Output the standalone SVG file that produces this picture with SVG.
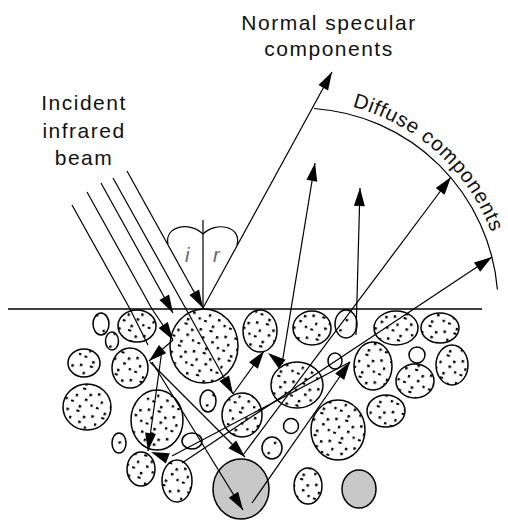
<svg xmlns="http://www.w3.org/2000/svg" xmlns:xlink="http://www.w3.org/1999/xlink" width="508" height="520" viewBox="0 0 508 520">
  <style>
    .lbl { font-family: "Liberation Sans", Arial, sans-serif; font-size: 21px; letter-spacing: 1.5px; fill: #111; }
    .arc { font-family: "Liberation Sans", Arial, sans-serif; font-size: 20.5px; letter-spacing: 0.8px; fill: #111; }
    .ang { font-family: "Liberation Sans", Arial, sans-serif; font-size: 20px; font-style: italic; fill: #666; }
    .ray { fill: none; stroke: #000; stroke-width: 1.2; }
    .grain { fill: url(#dense); stroke: #000; stroke-width: 1.5; }
    .few { fill: url(#sparse); stroke: #000; stroke-width: 1.5; }
    .plain { fill: #fff; stroke: #000; stroke-width: 1.5; }
    .grey { fill: #c8c8c8; stroke: #000; stroke-width: 1.5; }
    .ah { fill: #000; }
  </style>
  <defs>
    <!-- speckled interior of the powder grains -->
    <pattern id="dense" width="26" height="23" patternUnits="userSpaceOnUse" patternTransform="rotate(17)">
      <rect width="26" height="23" fill="#fff"/>
      <rect x="1" y="2" width="2.5" height="2.5" fill="#000"/>
      <rect x="11" y="1" width="3.2" height="2" fill="#000"/>
      <rect x="19" y="5" width="2.5" height="2.5" fill="#000"/>
      <rect x="6" y="9" width="2.2" height="2.6" fill="#000"/>
      <rect x="16" y="11" width="2.6" height="2.4" fill="#000"/>
      <rect x="23" y="15" width="2.3" height="2.3" fill="#000"/>
      <rect x="3" y="16" width="2.8" height="2" fill="#000"/>
      <rect x="12" y="19" width="2.5" height="2.5" fill="#000"/>
    </pattern>
    <pattern id="sparse" width="19" height="17" patternUnits="userSpaceOnUse" patternTransform="rotate(-23)">
      <rect width="19" height="17" fill="#fff"/>
      <rect x="3" y="4" width="2.4" height="2.4" fill="#000"/>
      <rect x="12" y="11" width="2.6" height="2.2" fill="#000"/>
    </pattern>
    <!-- arrowhead pointing along +x, tip at the origin -->
    <path id="ah" d="M0,0 L-18,-5.5 L-18,5.5 Z"/>
    <!-- baseline for the curved caption, r = 205 about (300,305) -->
    <path id="arcText" d="M352.2,106.6 A205,205 0 0 1 504.2,294.3"/>
  </defs>

  <!-- labels -->
  <g id="label-incident">
    <text class="lbl" x="84" y="110" text-anchor="middle">Incident</text>
    <text class="lbl" x="84" y="138" text-anchor="middle">infrared</text>
    <text class="lbl" x="84" y="165" text-anchor="middle">beam</text>
  </g>
  <g id="label-specular">
    <text class="lbl" x="329" y="30" text-anchor="middle">Normal specular</text>
    <text class="lbl" x="329" y="56" text-anchor="middle">components</text>
  </g>
  <g id="label-diffuse">
    <path class="ray" d="M314,108.5 A198,198 0 0 1 497.4,289.5"/>
    <text class="arc"><textPath xlink:href="#arcText" href="#arcText">Diffuse components</textPath></text>
  </g>

  <!-- powder grains below the sample surface -->
  <g id="grains">
    <ellipse id="g1" class="few" cx="101" cy="324" rx="8" ry="11"/>
    <ellipse id="g2" class="few" cx="112" cy="341" rx="6.5" ry="9"/>
    <ellipse id="g3" class="grain" cx="137" cy="326" rx="19" ry="16"/>
    <ellipse id="g4" class="grain" cx="84" cy="363" rx="16" ry="14"/>
    <ellipse id="g5" class="grain" cx="130" cy="368" rx="18" ry="20"/>
    <ellipse id="g6" class="grain" cx="204" cy="346" rx="34" ry="37"/>
    <ellipse id="g7" class="grain" cx="87" cy="407" rx="24" ry="23"/>
    <ellipse id="g8" class="few" cx="208" cy="401" rx="8" ry="11"/>
    <ellipse id="g9" class="grain" cx="157" cy="420" rx="26" ry="30"/>
    <ellipse id="g10" class="grain" cx="242" cy="415" rx="20" ry="22"/>
    <ellipse id="g11" class="few" cx="119" cy="443" rx="7" ry="10"/>
    <ellipse id="g12" class="plain" cx="192" cy="441" rx="10" ry="8"/>
    <ellipse id="g13" class="grain" cx="141" cy="469" rx="14" ry="17"/>
    <ellipse id="g14" class="grain" cx="177" cy="481" rx="15" ry="21"/>
    <ellipse id="g15" class="grey" cx="241" cy="489" rx="28" ry="30"/>
    <ellipse id="g16" class="grain" cx="260" cy="331" rx="17" ry="21"/>
    <ellipse id="g17" class="grain" cx="312" cy="328" rx="19" ry="17"/>
    <ellipse id="g18" class="grain" cx="297" cy="385" rx="26" ry="23"/>
    <ellipse id="g19" class="plain" cx="291" cy="426" rx="7.5" ry="7.5"/>
    <ellipse id="g20" class="few" cx="272" cy="448" rx="10" ry="11"/>
    <ellipse id="g21" class="grain" cx="308" cy="486" rx="14" ry="18"/>
    <ellipse id="g22" class="grain" cx="338" cy="430" rx="27" ry="30"/>
    <ellipse id="g23" class="grey" cx="359" cy="489" rx="17" ry="19"/>
    <ellipse id="g24" class="few" cx="346" cy="324" rx="11" ry="14"/>
    <ellipse id="g25" class="grain" cx="396" cy="328" rx="22" ry="17"/>
    <ellipse id="g26" class="grain" cx="440" cy="328" rx="19" ry="15"/>
    <ellipse id="g27" class="plain" cx="335" cy="361" rx="7" ry="8"/>
    <ellipse id="g28" class="grain" cx="373" cy="366" rx="19" ry="24"/>
    <ellipse id="g29" class="plain" cx="417" cy="355" rx="8" ry="8"/>
    <ellipse id="g30" class="grain" cx="415" cy="381" rx="19" ry="17"/>
    <ellipse id="g31" class="grain" cx="452" cy="365" rx="16" ry="20"/>
    <ellipse id="g32" class="grain" cx="386" cy="411" rx="19" ry="16"/>
  </g>

  <!-- sample surface, normal and angle marks -->
  <g id="surface">
    <line x1="8" y1="309" x2="482" y2="309" stroke="#000" stroke-width="1.5"/>
    <line class="ray" x1="203" y1="220" x2="203" y2="308"/>
    <path class="ray" d="M168,244 C164,226 190,221 203,234 M203,234 C216,221 242,226 237,245"/>
    <text class="ang" x="185" y="262">i</text>
    <text class="ang" x="213" y="262">r</text>
  </g>

  <!-- ray paths -->
  <g id="connectors">
    <!-- incident beam -->
    <path class="ray" d="M72,205 L130,309 L148,345"/>
    <path class="ray" d="M87,192 L152,309 L173,340"/>
    <path class="ray" d="M101,183 L173,313"/>
    <path class="ray" d="M113,178 L186,309 L233,394"/>
    <path class="ray" d="M127,171 L203,308"/>
    <!-- specular reflection -->
    <path class="ray" d="M203,308 L332,72"/>
    <!-- paths between the grains -->
    <path class="ray" d="M173,340 L149,361"/>
    <path class="ray" d="M150,362 L245,457"/>
    <path class="ray" d="M162,350 L148,451"/>
    <path class="ray" d="M152,362 L243,510"/>
    <path class="ray" d="M233,394 L264,351"/>
    <path class="ray" d="M172,456 L350,362"/>
    <path class="ray" d="M252,503 L350,362"/>
    <!-- diffusely re-emitted rays -->
    <path class="ray" d="M282,364 L315,163"/>
    <path class="ray" d="M356,335 L360,188"/>
    <path class="ray" d="M243,455 L451,177"/>
    <path class="ray" d="M182,463 L492,257"/>

    <!-- arrowheads -->
    <use href="#ah" class="ah" transform="translate(203,308) rotate(61)"/>
    <use href="#ah" class="ah" transform="translate(173,313) rotate(61)"/>
    <use href="#ah" class="ah" transform="translate(173,340) rotate(57)"/>
    <use href="#ah" class="ah" transform="translate(233,394) rotate(61)"/>
    <use href="#ah" class="ah" transform="translate(149,361) rotate(139)"/>
    <use href="#ah" class="ah" transform="translate(245,457) rotate(45)"/>
    <use href="#ah" class="ah" transform="translate(148,451) rotate(98)"/>
    <use href="#ah" class="ah" transform="translate(243,510) rotate(58)"/>
    <use href="#ah" class="ah" transform="translate(151,452) rotate(201)"/>
    <use href="#ah" class="ah" transform="translate(264,351) rotate(-54)"/>
    <use href="#ah" class="ah" transform="translate(268,353) rotate(-142)"/>
    <use href="#ah" class="ah" transform="translate(350,362) rotate(-55)"/>
    <use href="#ah" class="ah" transform="translate(332,72) rotate(-61)"/>
    <use href="#ah" class="ah" transform="translate(315,163) rotate(-80)"/>
    <use href="#ah" class="ah" transform="translate(360,188) rotate(-88)"/>
    <use href="#ah" class="ah" transform="translate(451,177) rotate(-53)"/>
    <use href="#ah" class="ah" transform="translate(492,257) rotate(-34)"/>
  </g>
</svg>
